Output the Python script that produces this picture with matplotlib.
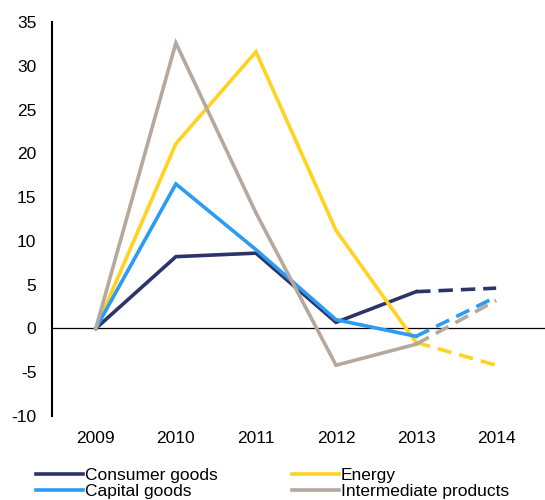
import numpy as np
import matplotlib.pyplot as plt

plt.rcParams['font.family'] = ['Liberation Sans', 'DejaVu Sans']
plt.rcParams['axes.unicode_minus'] = False

years = ['2009', '2010', '2011', '2012', '2013', '2014']
consumer = [0, 8.2, 8.6, 0.7, 4.2, 4.6]
energy = [0, 21.1, 31.6, 11.2, -1.6, -4.2]
capital = [0, 16.5, 9.0, 1.0, -0.9, 3.6]
intermediate = [0, 32.6, 13.2, -4.2, -1.8, 3.2]

series = [
    ('Consumer goods', consumer, '#2e3468'),
    ('Energy', energy, '#ffd31f'),
    ('Capital goods', capital, '#2b9cf2'),
    ('Intermediate products', intermediate, '#b5a89f'),
]

fig = plt.figure(figsize=(5.45, 5.0), dpi=100)
ax = fig.add_axes([0.095, 0.168, 0.905, 0.788])

x = np.arange(len(years))
handles = {}
for name, vals, col in series:
    h, = ax.plot(x[:5], vals[:5], color=col, lw=2.6, solid_joinstyle='miter', label=name)
    ax.plot(x[4:], vals[4:], color=col, lw=2.6, dashes=(4, 2.2))
    handles[name] = h

ax.axhline(0, color='black', lw=0.9, zorder=0)
ax.set_ylim(-10, 35)
ax.set_yticks(range(-10, 36, 5))
ax.set_xlim(-0.55, 5.61)
ax.set_xticks(x)
ax.set_xticklabels(years)
for s in ['top', 'right', 'bottom']:
    ax.spines[s].set_visible(False)
ax.spines['left'].set_linewidth(1.5)
ax.tick_params(axis='both', length=0, labelsize=12.5)
ax.tick_params(axis='x', pad=11)
ax.tick_params(axis='y', pad=11)

# legend fills by column, so order gives rows: Consumer/Energy, Capital/Intermediate
order = ['Consumer goods', 'Capital goods', 'Energy', 'Intermediate products']
fig.legend(handles=[handles[n] for n in order], loc='lower left',
           bbox_to_anchor=(0.037, -0.03), ncol=2, frameon=False, fontsize=12.5,
           handlelength=2.7, handletextpad=0.12, columnspacing=4.3, labelspacing=0.05)

fig.savefig('out.png', dpi=100)
